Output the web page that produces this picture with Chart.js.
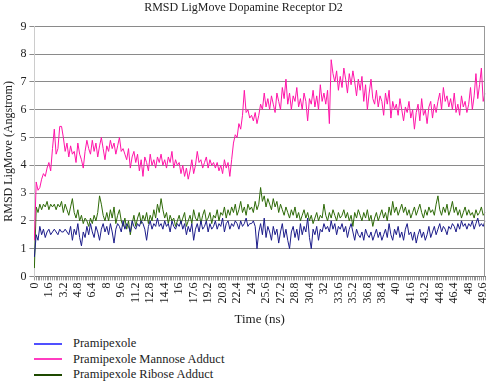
<!DOCTYPE html>
<html>
<head>
<meta charset="utf-8">
<script src="https://cdn.jsdelivr.net/npm/chart.js@4/dist/chart.umd.min.js"></script>
<style>
  body { margin: 0; background: #fff; font-family: 'Liberation Serif', 'DejaVu Serif', serif; }
  #wrap { position: relative; width: 486px; height: 327px; }
  #legend { position: absolute; left: 34px; top: 336px; font-size: 12.5px; color: #222; }
  .item { display: flex; align-items: center; height: 15.5px; }
  .swatch { width: 28px; height: 0; border-top: 2px solid; margin-right: 11px; }
</style>
</head>
<body>
<div id="wrap"><canvas id="chart"></canvas></div>
<div id="legend"></div>
<script>
// --- datos: RMSD cada 0.2 ns ---
const seriesNames = ['Pramipexole', 'Pramipexole Mannose Adduct', 'Pramipexole Ribose Adduct'];

const pramipexole = [
  0.7, 1.5, 1.3, 1.8, 1.5, 1.7, 1.4, 1.6, 1.7, 1.5,
  1.6, 1.7, 1.6, 1.5, 1.7, 1.6, 1.6, 1.7, 1.6, 1.5,
  1.8, 1.3, 1.7, 1.5, 1.9, 1.4, 1.1, 1.6, 1.4, 1.8,
  1.5, 1.9, 1.6, 1.4, 1.8, 1.6, 1.3, 1.7, 1.9, 1.6,
  1.8, 1.5, 1.9, 1.6, 1.2, 1.7, 1.9, 1.8, 1.6, 2.0,
  1.7, 1.9, 1.8, 1.6, 2.0, 1.8, 1.7, 1.9, 1.8, 2.0,
  1.9, 1.7, 1.3, 1.8, 2.0, 1.7, 1.9, 1.8, 2.1, 1.8,
  1.9, 1.7, 2.0, 1.8, 1.9, 1.6, 2.0, 1.8, 1.7, 1.9,
  1.8, 2.0, 1.7, 1.9, 1.5, 1.8, 1.6, 1.9, 1.3, 1.7,
  1.9, 1.6, 2.0, 1.7, 1.8, 2.0, 1.6, 1.9, 1.7, 1.8,
  2.0, 1.7, 1.9, 1.8, 2.1, 1.6, 1.9, 2.0, 1.7, 1.9,
  1.8, 2.0, 1.9, 1.7, 2.0, 1.8, 1.9, 2.1, 1.8, 1.9,
  1.9, 2.0, 1.8, 1.0, 1.6, 1.9, 1.5, 2.1, 1.4, 1.8,
  1.6, 1.3, 1.8, 1.5, 1.7, 1.2, 1.6, 1.9, 1.4, 1.7,
  1.3, 1.0, 1.6, 1.8, 1.4, 1.7, 1.3, 1.9, 1.5, 1.8,
  1.6, 2.1, 1.4, 1.0, 1.7, 1.5, 1.8, 1.3, 1.7, 1.6,
  1.9, 1.7, 1.8, 1.6, 2.0, 1.7, 1.9, 1.5, 1.8, 1.7,
  1.9, 1.6, 1.8, 1.4, 1.7, 1.9, 1.6, 1.3, 1.7, 1.5,
  1.4, 1.6, 1.3, 1.7, 1.5, 1.4, 1.6, 1.3, 1.5, 1.7,
  1.4, 1.6, 1.3, 1.5, 1.7, 1.4, 1.9, 1.5, 1.3, 1.7,
  1.5, 1.8, 1.4, 1.6, 1.3, 1.7, 1.9, 1.5, 1.6, 1.3,
  1.6, 1.2, 1.5, 1.7, 1.4, 1.6, 1.3, 1.5, 1.8, 1.4,
  1.6, 1.8, 1.5, 1.7, 1.9, 1.6, 1.8, 1.7, 1.5, 1.8,
  1.7, 1.9, 1.8, 1.6, 1.9, 1.7, 2.0, 1.8, 1.9, 1.7,
  1.9, 1.8, 2.0, 1.7, 1.9, 2.1, 1.8, 1.9, 1.8, 2.0
];

const mannose = [
  1.3, 3.4, 3.1, 3.2, 3.5, 3.7, 3.6, 3.9, 4.1, 3.8,
  4.6, 5.3, 4.4, 4.6, 5.4, 5.4, 5.0, 4.5, 4.8, 4.3,
  4.7, 4.4, 4.5, 4.1, 4.8, 4.4, 4.2, 3.9, 4.5, 4.9,
  4.6, 4.4, 4.9, 4.5, 4.8, 4.3, 4.7, 5.0, 4.6, 4.2,
  4.7, 4.5, 4.9, 4.6, 4.8, 4.4, 4.7, 5.0, 4.5, 4.6,
  4.4, 4.2, 4.6, 3.9, 4.3, 4.5, 4.1, 4.4, 3.8, 4.2,
  3.6, 4.3, 4.1, 3.8, 4.4, 4.0, 4.2, 3.9, 4.3, 4.1,
  4.4, 4.0, 4.2, 3.9, 4.3, 4.1, 4.5, 3.9, 4.2, 4.0,
  4.1, 3.7, 4.0, 3.6, 3.9, 3.5, 3.8, 4.2, 3.7, 4.0,
  4.5, 4.1, 4.2, 3.9, 4.1, 4.3, 3.9, 4.2, 4.0, 4.1,
  3.9, 4.1, 3.8, 4.0, 3.7, 4.2, 3.9, 4.1, 3.6, 4.2,
  4.8, 5.1, 5.0, 5.5, 5.3, 5.8, 6.7, 5.9, 6.0, 5.7,
  5.8, 5.6, 5.9, 5.5, 5.8, 6.2, 6.0, 6.6, 6.1, 6.4,
  6.0, 6.5, 6.2, 5.9, 6.6, 6.3, 6.0, 6.8, 6.4, 7.1,
  6.2, 6.6, 6.0, 6.5, 6.3, 6.8, 6.1, 6.4, 6.0, 6.6,
  6.3, 5.6, 6.4, 6.2, 6.7, 6.1, 6.5, 6.0, 6.9, 6.3,
  6.6, 6.2, 6.7, 5.5, 7.8, 7.3, 7.0, 7.4, 6.7, 7.2,
  6.8, 7.5, 7.1, 6.6, 7.3, 6.9, 7.4, 7.0, 6.5, 7.1,
  6.7, 7.2, 6.3, 6.9, 6.0, 6.6, 7.1, 6.4, 6.2, 6.7,
  6.1, 6.5, 6.3, 5.8, 6.6, 6.2, 6.7, 5.7, 6.3, 6.0,
  6.2, 5.8, 6.4, 6.0, 5.6, 6.1, 5.9, 6.3, 5.7, 6.0,
  5.3, 5.9, 6.2, 5.6, 6.4, 5.8, 6.0, 5.5, 6.1, 6.3,
  5.7, 6.2, 5.9, 6.3, 6.6, 6.0, 6.8, 6.3, 6.5, 6.1,
  6.4, 6.0, 6.6, 5.9, 6.2, 5.8, 6.5, 6.1, 6.3, 5.9,
  6.2, 6.8, 6.0, 6.5, 7.3, 6.4, 6.9, 7.5, 6.3, 6.6
];

const ribose = [
  0.3, 2.5, 2.3, 2.6, 2.4, 2.6, 2.5, 2.7, 2.4, 2.6,
  2.5, 2.6, 2.4, 2.6, 2.5, 2.7, 2.3, 2.6, 2.4, 2.2,
  2.5, 2.8, 2.3, 2.1, 2.4, 2.0, 2.2, 1.9, 2.1, 2.0,
  1.8, 2.1, 1.9, 2.2, 2.0, 2.3, 2.9, 2.6, 2.2, 2.0,
  2.3, 2.0, 2.4, 2.1, 2.5, 1.9, 2.2, 2.4, 2.0, 1.8,
  2.1, 1.7, 2.0, 1.5, 1.9, 2.2, 1.8, 2.1, 2.3, 1.9,
  2.2, 2.0, 2.3, 1.9, 2.2, 2.0, 2.4, 2.1, 2.6, 2.3,
  2.8, 2.4, 2.1, 2.3, 1.9, 2.2, 2.0, 2.1, 1.8, 2.0,
  2.2, 1.9, 2.1, 2.3, 1.8, 2.0, 2.2, 1.9, 2.4, 2.1,
  2.0, 2.3, 1.9, 2.2, 2.4, 2.0, 2.1, 2.3, 1.9, 2.2,
  2.1, 2.4, 2.0, 2.3, 2.2, 2.5, 2.1, 2.4, 2.2, 2.5,
  2.3, 2.6, 2.2, 2.4, 2.7, 2.3, 2.5, 2.2, 2.6, 2.4,
  2.5, 2.3, 2.7, 2.4, 2.6, 3.2, 2.7, 2.9, 2.5, 2.8,
  2.6, 2.4, 2.8, 2.5, 2.7, 2.3, 2.6, 2.4, 2.2, 2.5,
  2.3, 2.1, 2.4, 2.2, 2.5, 2.1, 2.3, 2.0, 2.2, 2.4,
  2.1, 2.3, 2.0, 2.2, 1.9, 2.1, 2.3, 2.0, 2.2, 2.1,
  2.6, 2.2, 2.0, 2.3, 2.1, 2.4, 2.2, 2.0, 2.3, 2.1,
  2.2, 2.4, 2.1, 2.3, 2.0, 2.2, 1.8, 2.3, 2.1, 2.4,
  2.2, 2.0, 2.3, 2.1, 2.4, 2.0, 2.2, 1.8, 2.1, 2.3,
  2.0, 2.2, 2.4, 2.1, 2.3, 2.0, 2.5, 2.2, 2.7, 2.3,
  2.5, 2.2, 2.4, 2.6, 2.3, 2.5, 2.2, 2.4, 2.1, 2.3,
  2.5, 2.2, 2.4, 2.6, 2.3, 2.1, 2.4, 2.2, 2.5, 2.3,
  2.4, 2.2, 2.6, 2.9, 2.4, 2.2, 2.5, 2.3, 2.6, 2.2,
  2.4, 2.7, 2.3, 2.5, 2.2, 2.4, 2.1, 2.3, 2.5, 2.2,
  2.4, 2.2, 2.3, 2.1, 2.4, 2.2, 2.3, 2.5, 2.2, 2.3
];

// eje de tiempo (ns), paso 0.2; etiqueta cada 1.6 ns
const timeStep = 0.2;
const labelEvery = 8;
const times = pramipexole.map((_, i) => String(+(i * timeStep).toFixed(1)));

const lineColors = ['#1c1c8a', '#ff14a8', '#2e6a08'];
const legendColors = ['#5050ff', '#ff3cc0', '#1e4a00'];

const serif = "'Liberation Serif', 'DejaVu Serif', serif";
Chart.defaults.font.family = serif;
Chart.defaults.color = '#222';

// borde derecho del área del gráfico
const rightBorder = {
  id: 'rightBorder',
  afterDraw(chart) {
    const { ctx, chartArea: a } = chart;
    ctx.save();
    ctx.strokeStyle = '#999';
    ctx.lineWidth = 1;
    ctx.beginPath();
    ctx.moveTo(Math.round(a.right) - 0.5, a.top);
    ctx.lineTo(Math.round(a.right) - 0.5, a.bottom);
    ctx.stroke();
    ctx.restore();
  }
};

new Chart(document.getElementById('chart').getContext('2d'), {
  type: 'line',
  data: {
    labels: times,
    datasets: [pramipexole, mannose, ribose].map((d, i) => ({
      label: seriesNames[i],
      data: d,
      borderColor: lineColors[i],
      borderWidth: 1,
      pointRadius: 0,
      tension: 0,
      fill: false
    }))
  },
  options: {
    responsive: true,
    maintainAspectRatio: false,
    animation: false,
    layout: { padding: { left: 2, right: 1, top: 0, bottom: 0 } },
    plugins: {
      legend: { display: false },
      tooltip: { enabled: false },
      title: {
        display: true,
        text: 'RMSD LigMove Dopamine Receptor D2',
        font: { size: 12, weight: 'normal' },
        color: '#222',
        padding: { top: 1, bottom: 11 }
      }
    },
    scales: {
      x: {
        afterFit: s => { s.paddingRight = 0; s.paddingLeft = 0; },
        grid: { drawOnChartArea: false, drawTicks: true, tickLength: 4, color: '#999' },
        border: { color: '#777' },
        ticks: {
          autoSkip: false,
          maxRotation: 90,
          minRotation: 90,
          padding: 2,
          font: { size: 12 },
          callback: (v, i) => i % labelEvery === 0 ? times[i] : ''
        },
        title: { display: true, text: 'Time (ns)', font: { size: 13 }, padding: { top: 6, bottom: 0 } }
      },
      y: {
        min: 0,
        max: 9,
        ticks: { stepSize: 1, font: { size: 12 }, padding: 3 },
        grid: { color: '#8a8a8a', tickLength: 5 },
        border: { color: '#ccc' },
        title: { display: true, text: 'RMSD LigMove (Angstrom)', font: { size: 12 }, padding: { top: 0, bottom: 1 } }
      }
    }
  },
  plugins: [rightBorder]
});

// leyenda vertical
const legend = document.getElementById('legend');
seriesNames.forEach((name, i) => {
  const row = document.createElement('div');
  row.className = 'item';
  row.innerHTML = `<span class="swatch" style="border-color:${legendColors[i]}"></span><span>${name}</span>`;
  legend.appendChild(row);
});
</script>
</body>
</html>
